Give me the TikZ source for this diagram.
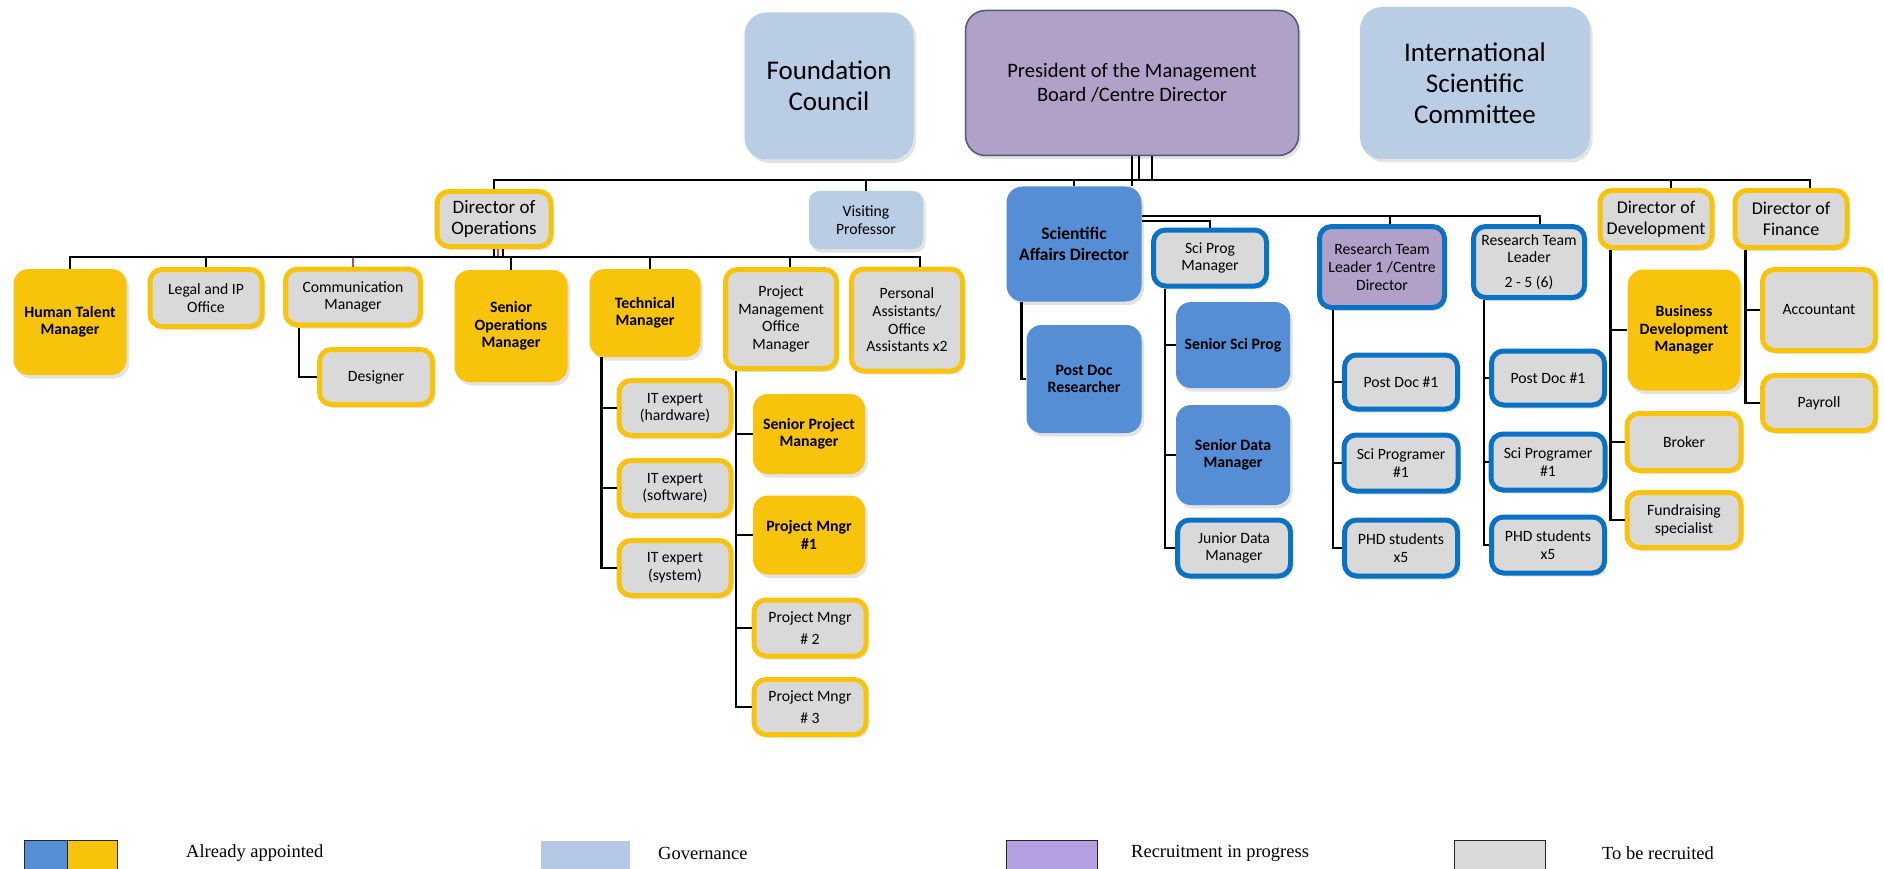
\documentclass[tikz,border=0pt]{standalone}
\usepackage{fontspec}
\setmainfont{Carlito}
\newfontfamily\legendfont{Liberation Serif}
\usetikzlibrary{shadows}
\definecolor{opsgold}{HTML}{F8C40B}
\definecolor{sciblue}{HTML}{558ED5}
\definecolor{scirim}{HTML}{0A72C4}
\definecolor{opengray}{HTML}{D9D9D9}
\definecolor{pendpurple}{HTML}{B1A0C7}
\definecolor{govblue}{HTML}{B9CDE5}
\definecolor{presrim}{HTML}{4F5B73}
\definecolor{linkred}{HTML}{C0504D}
\definecolor{leggov}{HTML}{B4C7E7}
\definecolor{legpurple}{HTML}{B4A0E1}

\begin{document}
\begin{tikzpicture}[x=1pt, y=-1pt,
  box/.style={rectangle, rounded corners=12pt, align=center, inner sep=0pt,
    font=\fontsize{15.7}{17.7}\selectfont,
    drop shadow={shadow xshift=2.5pt, shadow yshift=-3.5pt, opacity=0.22}},
  gov/.style={box, fill=govblue, rounded corners=22pt, font=\fontsize{27}{31}\selectfont},
  head/.style={box, fill=pendpurple, draw=presrim, line width=1.5pt, rounded corners=20pt,
    font=\fontsize{20.5}{24}\selectfont},
  opsdone/.style={box, fill=opsgold, rounded corners=15pt, font=\fontsize{15.8}{17.5}\selectfont\bfseries},
  opsopen/.style={box, fill=opengray, draw=opsgold, line width=5pt},
  scidone/.style={box, fill=sciblue, rounded corners=15pt, font=\fontsize{15.8}{17.5}\selectfont\bfseries},
  sciopen/.style={box, fill=opengray, draw=scirim, line width=5pt},
  scipend/.style={box, fill=pendpurple, draw=scirim, line width=5pt},
  link/.style={line width=2.8pt, black},
  thinlink/.style={line width=1.5pt, black},
  legbox/.style={rectangle, anchor=north west, inner sep=0pt, minimum height=40pt, draw=black!85, line width=1pt},
  legtext/.style={anchor=west, inner sep=0pt, font=\legendfont\fontsize{18.5}{21}\selectfont}]
\useasboundingbox (0,0) rectangle (1884,869);

\node[gov, minimum width=169pt, minimum height=147pt] (found) at (829,86) {Foundation\\Council};
\node[head, minimum width=333pt, minimum height=145pt] (pres) at (1132,83) {President of the Management\\Board /Centre Director};
\node[gov, minimum width=230pt, minimum height=152pt] (isc) at (1475,83) {International\\Scientific\\Committee};

\node[opsopen, minimum width=114pt, minimum height=55pt, font=\fontsize{19}{21.5}\selectfont] (dops) at (494,219) {Director of\\Operations};
\node[gov, minimum width=114pt, minimum height=58pt, rounded corners=10pt, font=\fontsize{15.7}{17.7}\selectfont] (vp) at (866,220) {Visiting\\Professor};
\node[scidone, minimum width=135pt, minimum height=115pt, rounded corners=16pt, font=\fontsize{17.5}{21}\selectfont\bfseries] (sad) at (1074,244) {Scientific\\Affairs Director};
\node[sciopen, minimum width=113pt, minimum height=56pt] (spm) at (1210,258) {Sci Prog\\Manager};
\node[scipend, minimum width=125pt, minimum height=81pt] (rtlone) at (1382,267) {Research Team\\Leader 1 /Centre\\Director};
\node[sciopen, minimum width=111pt, minimum height=71pt] (rtlmore) at (1529,262) {Research Team\\Leader\\[7pt]2 - 5 (6)};
\node[opsopen, minimum width=112pt, minimum height=57pt, font=\fontsize{18}{21}\selectfont] (ddev) at (1656,219) {Director of\\Development};
\node[opsopen, minimum width=112pt, minimum height=57pt, font=\fontsize{18}{21}\selectfont] (dfin) at (1791,219) {Director of\\Finance};

\node[opsdone, minimum width=113pt, minimum height=106pt] (htm) at (70,322) {Human Talent\\Manager};
\node[opsopen, minimum width=112pt, minimum height=57pt] (legal) at (206,298) {Legal and IP\\Office};
\node[opsopen, minimum width=135pt, minimum height=56pt] (comm) at (353,297) {Communication\\Manager};
\node[opsopen, minimum width=113pt, minimum height=55pt] (design) at (376,377) {Designer};
\node[opsdone, minimum width=113pt, minimum height=112pt] (seniorops) at (511,326) {Senior\\Operations\\Manager};
\node[opsdone, minimum width=111pt, minimum height=88pt] (techmgr) at (645,313) {Technical\\Manager};
\node[opsopen, minimum width=111pt, minimum height=99pt] (pmo) at (781,319) {Project\\Management\\Office\\Manager};
\node[opsopen, minimum width=111pt, minimum height=102pt] (assist) at (907,320) {Personal\\Assistants/\\Office\\Assistants x2};

\foreach \n/\t/\y in {ithw/hardware/408, itsw/software/488, itsys/system/568}
  \node[opsopen, minimum width=112pt, minimum height=55pt] (\n) at (675,\y) {IT expert\\(\t)};

\node[opsdone, minimum width=112pt, minimum height=80pt] (seniorpm) at (809,434) {Senior Project\\Manager};
\node[opsdone, minimum width=112pt, minimum height=79pt] (pmone) at (809,535) {Project Mngr\\\#1};
\node[opsopen, minimum width=112pt, minimum height=56pt] (pmtwo) at (810,628) {Project Mngr\\[5pt]\# 2};
\node[opsopen, minimum width=112pt, minimum height=55pt] (pmthree) at (810,707) {Project Mngr\\[5pt]\# 3};

\node[scidone, minimum width=115pt, minimum height=108pt] (postdocres) at (1084,379) {Post Doc\\Researcher};
\node[scidone, minimum width=114pt, minimum height=86pt] (seniorsci) at (1233,345) {Senior Sci Prog};
\node[scidone, minimum width=114pt, minimum height=100pt] (seniordata) at (1233,455) {Senior Data\\Manager};
\node[sciopen, minimum width=113pt, minimum height=56pt] (juniordata) at (1234,548) {Junior Data\\Manager};

\foreach \g/\x/\ya/\yb/\yc in {one/1401/382/463/548, more/1548/378/462/545}{
  \node[sciopen, minimum width=113pt, minimum height=54pt] (postdoc\g) at (\x,\ya) {Post Doc \#1};
  \node[sciopen, minimum width=114pt, minimum height=56pt] (sciprog\g) at (\x,\yb) {Sci Programer\\\#1};
  \node[sciopen, minimum width=113pt, minimum height=56pt] (phd\g) at (\x,\yc) {PHD students\\x5};
}

\node[opsdone, minimum width=113pt, minimum height=121pt, rounded corners=16pt] (bizdev) at (1684,330) {Business\\Development\\Manager};
\node[opsopen, minimum width=114pt, minimum height=57pt] (broker) at (1684,442) {Broker};
\node[opsopen, minimum width=114pt, minimum height=55pt] (fundraise) at (1684,520) {Fundraising\\specialist};
\node[opsopen, minimum width=113pt, minimum height=81pt] (account) at (1819,310) {Accountant};
\node[opsopen, minimum width=113pt, minimum height=55pt] (payroll) at (1819,403) {Payroll};

\coordinate (topbus) at (1132,180);
\coordinate (opsbus) at (494,257);
\coordinate (rtlbus) at (1142,216);

\draw[link] (pres.south) -- (pres.south |- sad.north);
\draw[thinlink] ([xshift=7pt]pres.south) |- (topbus);
\draw[thinlink] ([xshift=20pt]pres.south) |- (topbus);
\foreach \c in {dops,vp,sad}
  \draw[link] (topbus) -| (\c.north);
\draw[link] (topbus) -| ([xshift=15pt]ddev.north);
\draw[link] (topbus) -| ([xshift=19pt]dfin.north);

\draw[link] (dops.south) -- (opsbus);
\draw[thinlink, linkred] ([xshift=4pt]dops.south) |- (opsbus);
\draw[thinlink] ([xshift=9pt]dops.south) |- (opsbus);
\draw[link, linkred] (opsbus) -| (comm.north);
\foreach \c/\s in {htm/0, legal/0, seniorops/0, techmgr/5, pmo/9, assist/13}
  \draw[link] (opsbus) -| ([xshift=\s pt]\c.north);
\draw[link] ([xshift=16pt]comm.south west) |- (design.west);
\foreach \c in {ithw,itsw,itsys}
  \draw[link] ([xshift=12pt]techmgr.south west) |- (\c.west);
\foreach \c in {seniorpm,pmone,pmtwo,pmthree}
  \draw[link] ([xshift=13pt]pmo.south west) |- (\c.west);

\draw[link] ([xshift=15pt]sad.south west) |- (postdocres.west);
\draw[link] (rtlbus) -| ([xshift=8pt]rtlone.north);
\draw[link] (rtlbus) -| ([xshift=11pt]rtlmore.north);
\draw[thinlink] ([yshift=-5pt]rtlbus) -| (spm.north);
\foreach \c in {seniorsci,seniordata,juniordata}
  \draw[link] ([xshift=14pt]spm.south west) |- (\c.west);
\foreach \g/\s in {one/16, more/13}
  \foreach \c in {postdoc,sciprog,phd}
    \draw[link] ([xshift=\s pt]rtl\g.south west) |- (\c\g.west);

\foreach \c in {bizdev,broker,fundraise}
  \draw[link] ([xshift=13pt]ddev.south west) |- (\c.west);
\foreach \c in {account,payroll}
  \draw[link] ([xshift=13pt]dfin.south west) |- (\c.west);

\node[legbox, fill=sciblue, minimum width=43pt] (keyblue) at (24,840) {};
\node[legbox, fill=opsgold, minimum width=50pt] (keygold) at (67,840) {};
\node[legbox, fill=leggov, draw=none, minimum width=89pt] (keygov) at (540,840) {};
\node[legbox, fill=legpurple, minimum width=91pt] (keypend) at (1006,840) {};
\node[legbox, fill=opengray, minimum width=91pt] (keyopen) at (1454,840) {};
\node[legtext] (txtdone) at (186,853) {Already appointed};
\node[legtext] (txtgov) at (658,853) {Governance};
\node[legtext] (txtpend) at (1131,853) {Recruitment in progress};
\node[legtext] (txtopen) at (1602,853) {To be recruited};
\end{tikzpicture}
\end{document}
